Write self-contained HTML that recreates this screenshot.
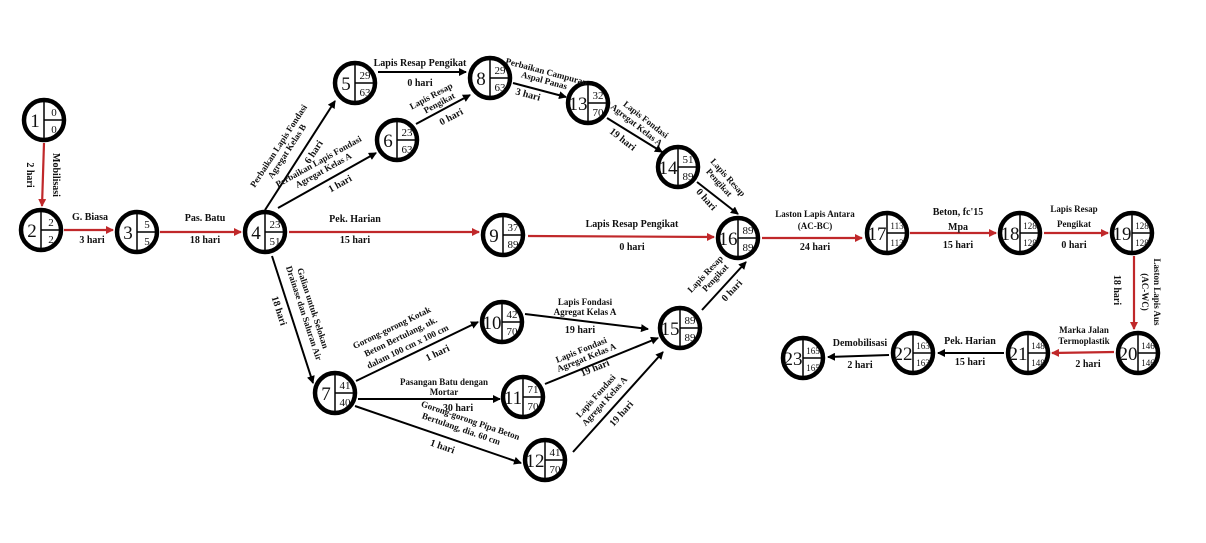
<!DOCTYPE html>
<html><head><meta charset="utf-8"><style>
html,body{margin:0;padding:0;background:#fff;}
svg{display:block;}
text{font-family:"Liberation Serif",serif;}
.l{font-size:10px;font-weight:bold;fill:#111;text-anchor:middle;}
.s{font-size:9px;font-weight:bold;fill:#111;text-anchor:middle;}
.n{font-size:19px;fill:#111;text-anchor:middle;}
.v{font-size:11px;fill:#111;text-anchor:middle;}
.r{stroke:#c0282a;stroke-width:2.2;fill:none;}
.b{stroke:#000;stroke-width:2;fill:none;}
</style></head><body>
<svg width="1206" height="543" viewBox="0 0 1206 543" xmlns="http://www.w3.org/2000/svg">
<defs>
<marker id="ar" markerWidth="8" markerHeight="8" refX="7" refY="4" orient="auto" markerUnits="userSpaceOnUse"><path d="M0,0 L8,4 L0,8 Z" fill="#c0282a"/></marker>
<marker id="ab" markerWidth="8" markerHeight="8" refX="7" refY="4" orient="auto" markerUnits="userSpaceOnUse"><path d="M0,0 L8,4 L0,8 Z" fill="#000"/></marker>
</defs>
<rect width="1206" height="543" fill="#fff"/>

<line class="r" x1="44" y1="143" x2="42" y2="206" marker-end="url(#ar)"/>
<line class="r" x1="64" y1="230" x2="113" y2="230" marker-end="url(#ar)"/>
<line class="r" x1="160" y1="232" x2="241" y2="232" marker-end="url(#ar)"/>
<line class="r" x1="289" y1="232" x2="479" y2="232" marker-end="url(#ar)"/>
<line class="r" x1="528" y1="236" x2="714" y2="237" marker-end="url(#ar)"/>
<line class="r" x1="762" y1="238" x2="862" y2="238" marker-end="url(#ar)"/>
<line class="r" x1="910" y1="233" x2="996" y2="233" marker-end="url(#ar)"/>
<line class="r" x1="1044" y1="233" x2="1108" y2="233" marker-end="url(#ar)"/>
<line class="r" x1="1134" y1="256" x2="1134" y2="329" marker-end="url(#ar)"/>
<line class="r" x1="1114" y1="352" x2="1052" y2="353" marker-end="url(#ar)"/>
<line class="b" x1="1004" y1="353" x2="938" y2="353" marker-end="url(#ab)"/>
<line class="b" x1="889" y1="355" x2="828" y2="357" marker-end="url(#ab)"/>
<line class="b" x1="265" y1="210" x2="335" y2="101" marker-end="url(#ab)"/>
<line class="b" x1="278" y1="208" x2="376" y2="153" marker-end="url(#ab)"/>
<line class="b" x1="378" y1="72" x2="466" y2="72" marker-end="url(#ab)"/>
<line class="b" x1="416" y1="124" x2="470" y2="95" marker-end="url(#ab)"/>
<line class="b" x1="513" y1="83" x2="566" y2="97" marker-end="url(#ab)"/>
<line class="b" x1="607" y1="118" x2="662" y2="152" marker-end="url(#ab)"/>
<line class="b" x1="697" y1="182" x2="738" y2="214" marker-end="url(#ab)"/>
<line class="b" x1="272" y1="256" x2="313" y2="383" marker-end="url(#ab)"/>
<line class="b" x1="356" y1="381" x2="478" y2="322" marker-end="url(#ab)"/>
<line class="b" x1="358" y1="399" x2="500" y2="399" marker-end="url(#ab)"/>
<line class="b" x1="355" y1="406" x2="521" y2="463" marker-end="url(#ab)"/>
<line class="b" x1="525" y1="314" x2="648" y2="329" marker-end="url(#ab)"/>
<line class="b" x1="545" y1="384" x2="658" y2="338" marker-end="url(#ab)"/>
<line class="b" x1="573" y1="452" x2="663" y2="352" marker-end="url(#ab)"/>
<line class="b" x1="702" y1="310" x2="746" y2="262" marker-end="url(#ab)"/>

<g>
<circle cx="44" cy="120" r="20" stroke="#000" stroke-width="4.5" fill="#fff"/><line x1="44" y1="100" x2="44" y2="140" stroke="#000" stroke-width="1.5"/><line x1="44" y1="120" x2="64" y2="120" stroke="#000" stroke-width="1.5"/><text class="n" x="35" y="127">1</text><text class="v" x="54" y="116">0</text><text class="v" x="54" y="133">0</text>
<circle cx="41" cy="230" r="20" stroke="#000" stroke-width="4.5" fill="#fff"/><line x1="41" y1="210" x2="41" y2="250" stroke="#000" stroke-width="1.5"/><line x1="41" y1="230" x2="61" y2="230" stroke="#000" stroke-width="1.5"/><text class="n" x="32" y="237">2</text><text class="v" x="51" y="226">2</text><text class="v" x="51" y="243">2</text>
<circle cx="137" cy="232" r="20" stroke="#000" stroke-width="4.5" fill="#fff"/><line x1="137" y1="212" x2="137" y2="252" stroke="#000" stroke-width="1.5"/><line x1="137" y1="232" x2="157" y2="232" stroke="#000" stroke-width="1.5"/><text class="n" x="128" y="239">3</text><text class="v" x="147" y="228">5</text><text class="v" x="147" y="245">5</text>
<circle cx="265" cy="232" r="20" stroke="#000" stroke-width="4.5" fill="#fff"/><line x1="265" y1="212" x2="265" y2="252" stroke="#000" stroke-width="1.5"/><line x1="265" y1="232" x2="285" y2="232" stroke="#000" stroke-width="1.5"/><text class="n" x="256" y="239">4</text><text class="v" x="275" y="228">23</text><text class="v" x="275" y="245">51</text>
<circle cx="355" cy="83" r="20" stroke="#000" stroke-width="4.5" fill="#fff"/><line x1="355" y1="63" x2="355" y2="103" stroke="#000" stroke-width="1.5"/><line x1="355" y1="83" x2="375" y2="83" stroke="#000" stroke-width="1.5"/><text class="n" x="346" y="90">5</text><text class="v" x="365" y="79">29</text><text class="v" x="365" y="96">63</text>
<circle cx="397" cy="140" r="20" stroke="#000" stroke-width="4.5" fill="#fff"/><line x1="397" y1="120" x2="397" y2="160" stroke="#000" stroke-width="1.5"/><line x1="397" y1="140" x2="417" y2="140" stroke="#000" stroke-width="1.5"/><text class="n" x="388" y="147">6</text><text class="v" x="407" y="136">23</text><text class="v" x="407" y="153">63</text>
<circle cx="335" cy="393" r="20" stroke="#000" stroke-width="4.5" fill="#fff"/><line x1="335" y1="373" x2="335" y2="413" stroke="#000" stroke-width="1.5"/><line x1="335" y1="393" x2="355" y2="393" stroke="#000" stroke-width="1.5"/><text class="n" x="326" y="400">7</text><text class="v" x="345" y="389">41</text><text class="v" x="345" y="406">40</text>
<circle cx="490" cy="78" r="20" stroke="#000" stroke-width="4.5" fill="#fff"/><line x1="490" y1="58" x2="490" y2="98" stroke="#000" stroke-width="1.5"/><line x1="490" y1="78" x2="510" y2="78" stroke="#000" stroke-width="1.5"/><text class="n" x="481" y="85">8</text><text class="v" x="500" y="74">29</text><text class="v" x="500" y="91">63</text>
<circle cx="503" cy="235" r="20" stroke="#000" stroke-width="4.5" fill="#fff"/><line x1="503" y1="215" x2="503" y2="255" stroke="#000" stroke-width="1.5"/><line x1="503" y1="235" x2="523" y2="235" stroke="#000" stroke-width="1.5"/><text class="n" x="494" y="242">9</text><text class="v" x="513" y="231">37</text><text class="v" x="513" y="248">89</text>
<circle cx="502" cy="322" r="20" stroke="#000" stroke-width="4.5" fill="#fff"/><line x1="502" y1="302" x2="502" y2="342" stroke="#000" stroke-width="1.5"/><line x1="502" y1="322" x2="522" y2="322" stroke="#000" stroke-width="1.5"/><text class="n" x="492" y="329">10</text><text class="v" x="512" y="318">42</text><text class="v" x="512" y="335">70</text>
<circle cx="523" cy="397" r="20" stroke="#000" stroke-width="4.5" fill="#fff"/><line x1="523" y1="377" x2="523" y2="417" stroke="#000" stroke-width="1.5"/><line x1="523" y1="397" x2="543" y2="397" stroke="#000" stroke-width="1.5"/><text class="n" x="513" y="404">11</text><text class="v" x="533" y="393">71</text><text class="v" x="533" y="410">70</text>
<circle cx="545" cy="460" r="20" stroke="#000" stroke-width="4.5" fill="#fff"/><line x1="545" y1="440" x2="545" y2="480" stroke="#000" stroke-width="1.5"/><line x1="545" y1="460" x2="565" y2="460" stroke="#000" stroke-width="1.5"/><text class="n" x="535" y="467">12</text><text class="v" x="555" y="456">41</text><text class="v" x="555" y="473">70</text>
<circle cx="588" cy="103" r="20" stroke="#000" stroke-width="4.5" fill="#fff"/><line x1="588" y1="83" x2="588" y2="123" stroke="#000" stroke-width="1.5"/><line x1="588" y1="103" x2="608" y2="103" stroke="#000" stroke-width="1.5"/><text class="n" x="578" y="110">13</text><text class="v" x="598" y="99">32</text><text class="v" x="598" y="116">70</text>
<circle cx="678" cy="167" r="20" stroke="#000" stroke-width="4.5" fill="#fff"/><line x1="678" y1="147" x2="678" y2="187" stroke="#000" stroke-width="1.5"/><line x1="678" y1="167" x2="698" y2="167" stroke="#000" stroke-width="1.5"/><text class="n" x="668" y="174">14</text><text class="v" x="688" y="163">51</text><text class="v" x="688" y="180">89</text>
<circle cx="680" cy="328" r="20" stroke="#000" stroke-width="4.5" fill="#fff"/><line x1="680" y1="308" x2="680" y2="348" stroke="#000" stroke-width="1.5"/><line x1="680" y1="328" x2="700" y2="328" stroke="#000" stroke-width="1.5"/><text class="n" x="670" y="335">15</text><text class="v" x="690" y="324">89</text><text class="v" x="690" y="341">89</text>
<circle cx="738" cy="238" r="20" stroke="#000" stroke-width="4.5" fill="#fff"/><line x1="738" y1="218" x2="738" y2="258" stroke="#000" stroke-width="1.5"/><line x1="738" y1="238" x2="758" y2="238" stroke="#000" stroke-width="1.5"/><text class="n" x="728" y="245">16</text><text class="v" x="748" y="234">89</text><text class="v" x="748" y="251">89</text>
<circle cx="887" cy="233" r="20" stroke="#000" stroke-width="4.5" fill="#fff"/><line x1="887" y1="213" x2="887" y2="253" stroke="#000" stroke-width="1.5"/><line x1="887" y1="233" x2="907" y2="233" stroke="#000" stroke-width="1.5"/><text class="n" x="877" y="240">17</text><text class="v" x="897" y="229" style="font-size:9px">113</text><text class="v" x="897" y="246" style="font-size:9px">113</text>
<circle cx="1020" cy="233" r="20" stroke="#000" stroke-width="4.5" fill="#fff"/><line x1="1020" y1="213" x2="1020" y2="253" stroke="#000" stroke-width="1.5"/><line x1="1020" y1="233" x2="1040" y2="233" stroke="#000" stroke-width="1.5"/><text class="n" x="1010" y="240">18</text><text class="v" x="1030" y="229" style="font-size:9px">128</text><text class="v" x="1030" y="246" style="font-size:9px">128</text>
<circle cx="1132" cy="233" r="20" stroke="#000" stroke-width="4.5" fill="#fff"/><line x1="1132" y1="213" x2="1132" y2="253" stroke="#000" stroke-width="1.5"/><line x1="1132" y1="233" x2="1152" y2="233" stroke="#000" stroke-width="1.5"/><text class="n" x="1122" y="240">19</text><text class="v" x="1142" y="229" style="font-size:9px">128</text><text class="v" x="1142" y="246" style="font-size:9px">128</text>
<circle cx="1138" cy="353" r="20" stroke="#000" stroke-width="4.5" fill="#fff"/><line x1="1138" y1="333" x2="1138" y2="373" stroke="#000" stroke-width="1.5"/><line x1="1138" y1="353" x2="1158" y2="353" stroke="#000" stroke-width="1.5"/><text class="n" x="1128" y="360">20</text><text class="v" x="1148" y="349" style="font-size:9px">146</text><text class="v" x="1148" y="366" style="font-size:9px">146</text>
<circle cx="1028" cy="353" r="20" stroke="#000" stroke-width="4.5" fill="#fff"/><line x1="1028" y1="333" x2="1028" y2="373" stroke="#000" stroke-width="1.5"/><line x1="1028" y1="353" x2="1048" y2="353" stroke="#000" stroke-width="1.5"/><text class="n" x="1018" y="360">21</text><text class="v" x="1038" y="349" style="font-size:9px">148</text><text class="v" x="1038" y="366" style="font-size:9px">148</text>
<circle cx="913" cy="353" r="20" stroke="#000" stroke-width="4.5" fill="#fff"/><line x1="913" y1="333" x2="913" y2="373" stroke="#000" stroke-width="1.5"/><line x1="913" y1="353" x2="933" y2="353" stroke="#000" stroke-width="1.5"/><text class="n" x="903" y="360">22</text><text class="v" x="923" y="349" style="font-size:9px">163</text><text class="v" x="923" y="366" style="font-size:9px">163</text>
<circle cx="803" cy="358" r="20" stroke="#000" stroke-width="4.5" fill="#fff"/><line x1="803" y1="338" x2="803" y2="378" stroke="#000" stroke-width="1.5"/><line x1="803" y1="358" x2="823" y2="358" stroke="#000" stroke-width="1.5"/><text class="n" x="793" y="365">23</text><text class="v" x="813" y="354" style="font-size:9px">165</text><text class="v" x="813" y="371" style="font-size:9px">165</text>
</g>

<text class="l" transform="translate(53,175) rotate(90)">Mobilisasi</text>
<text class="l" transform="translate(27,175) rotate(90)">2 hari</text>
<text class="l" x="90" y="220">G. Biasa</text>
<text class="l" x="92" y="243">3 hari</text>
<text class="l" x="205" y="221">Pas. Batu</text>
<text class="l" x="205" y="243">18 hari</text>
<text class="l" x="355" y="222">Pek. Harian</text>
<text class="l" x="355" y="243">15 hari</text>
<text class="l" x="632" y="227">Lapis Resap Pengikat</text>
<text class="l" x="632" y="250">0 hari</text>
<text class="s" x="815" y="217">Laston Lapis Antara</text>
<text class="s" x="815" y="229">(AC-BC)</text>
<text class="l" x="815" y="250">24 hari</text>
<text class="l" x="958" y="215">Beton, fc'15</text>
<text class="l" x="958" y="230">Mpa</text>
<text class="l" x="958" y="248">15 hari</text>
<text class="s" x="1074" y="212">Lapis Resap</text>
<text class="s" x="1074" y="227">Pengikat</text>
<text class="l" x="1074" y="248">0 hari</text>
<text class="s" transform="translate(1154,292) rotate(90)">Laston Lapis Aus</text>
<text class="s" transform="translate(1142,292) rotate(90)">(AC-WC)</text>
<text class="l" transform="translate(1114,290) rotate(90)">18 hari</text>
<text class="s" x="1084" y="333">Marka Jalan</text>
<text class="s" x="1084" y="344">Termoplastik</text>
<text class="l" x="1088" y="367">2 hari</text>
<text class="l" x="970" y="344">Pek. Harian</text>
<text class="l" x="970" y="365">15 hari</text>
<text class="l" x="860" y="346">Demobilisasi</text>
<text class="l" x="860" y="368">2 hari</text>
<text class="l" x="420" y="66">Lapis Resap Pengikat</text>
<text class="l" x="420" y="86">0 hari</text>
<text class="s" x="444" y="385">Pasangan Batu dengan</text>
<text class="s" x="444" y="395">Mortar</text>
<text class="l" x="458" y="411">30 hari</text>
<text class="s" x="585" y="305">Lapis Fondasi</text>
<text class="s" x="585" y="315">Agregat Kelas A</text>
<text class="l" x="580" y="333">19 hari</text>

<g transform="translate(300,155) rotate(-57)"><text class="s" x="-4" y="-20">Perbaikan Lapis Fondasi</text><text class="s" x="-4" y="-10">Agregat Kelas B</text><text class="l" x="10" y="13">6 hari</text></g>
<g transform="translate(330,178) rotate(-29)"><text class="s" x="-2" y="-17">Perbaikan Lapis Fondasi</text><text class="s" x="-2" y="-7">Agregat Kelas A</text><text class="l" x="6" y="13">1 hari</text></g>
<g transform="translate(443,110) rotate(-28)"><text class="s" x="-4" y="-15">Lapis Resap</text><text class="s" x="0" y="-5">Pengikat</text><text class="l" x="4" y="13">0 hari</text></g>
<g transform="translate(538,88) rotate(15)"><text class="s" x="4" y="-15">Perbaikan Campuran</text><text class="s" x="4" y="-6">Aspal Panas</text><text class="l" x="-8" y="12">3 hari</text></g>
<g transform="translate(632,134) rotate(38)"><text class="s" x="2" y="-17">Lapis Fondasi</text><text class="s" x="-2" y="-7">Agregat Kelas A</text><text class="l" x="-4" y="13">19 hari</text></g>
<g transform="translate(717,198) rotate(48)"><text class="s" x="-8" y="-19">Lapis Resap</text><text class="s" x="-10" y="-9">Pengikat</text><text class="l" x="-6" y="12">0 hari</text></g>
<g transform="translate(292,315) rotate(72)"><text class="s" x="0" y="-19">Galian untuk Selokan</text><text class="s" x="2" y="-9">Drainase dan Saluran Air</text><text class="l" x="-8" y="14">18 hari</text></g>
<g transform="translate(417,352) rotate(-26)"><text class="s" x="-12" y="-30">Gorong-gorong Kotak</text><text class="s" x="-8" y="-18">Beton Bertulang, uk.</text><text class="s" x="-6" y="-6">dalam 100 cm x 100 cm</text><text class="l" x="18" y="13">1 hari</text></g>
<g transform="translate(457,441) rotate(19)"><text class="s" x="6" y="-21">Gorong-gorong Pipa Beton</text><text class="s" x="0" y="-10">Bertulang, dia. 60 cm</text><text class="l" x="-12" y="13">1 hari</text></g>
<g transform="translate(592,366) rotate(-22)"><text class="s" x="-4" y="-16">Lapis Fondasi</text><text class="s" x="-2" y="-7">Agregat Kelas A</text><text class="l" x="2" y="6">19 hari</text></g>
<g transform="translate(614,407) rotate(-48)"><text class="s" x="-4" y="-18">Lapis Fondasi</text><text class="s" x="-2" y="-8">Agregat Kelas A</text><text class="l" x="0" y="13">19 hari</text></g>
<g transform="translate(724,286) rotate(-47)"><text class="s" x="-4" y="-19">Lapis Resap</text><text class="s" x="0" y="-9">Pengikat</text><text class="l" x="2" y="12">0 hari</text></g>
</svg>
</body></html>
